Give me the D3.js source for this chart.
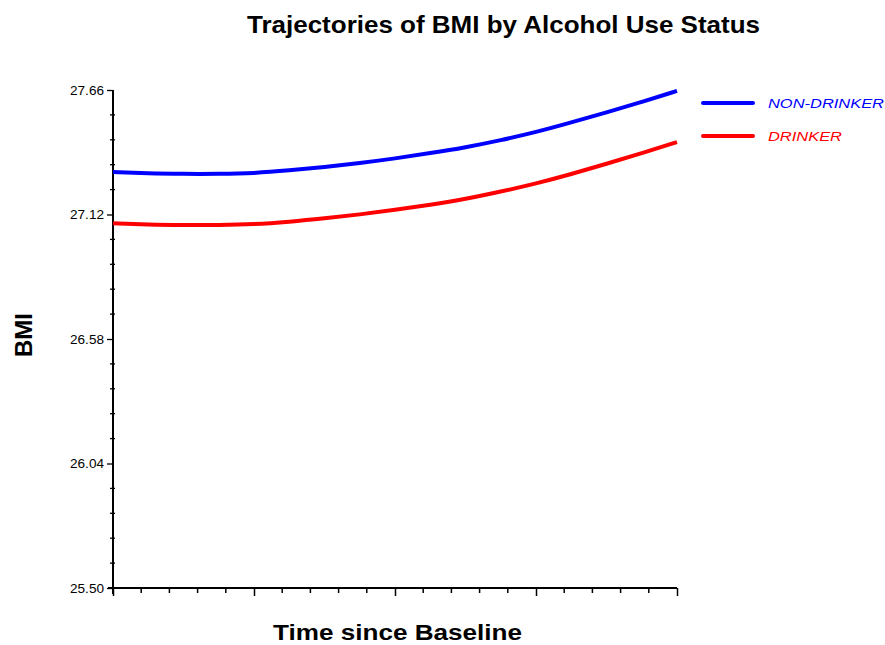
<!DOCTYPE html>
<html>
<head>
<meta charset="utf-8">
<script src="https://cdn.jsdelivr.net/npm/d3@7"></script>
<style>
  html, body { margin: 0; padding: 0; background: #fff; }
  svg { display: block; }
  text { font-family: "Liberation Sans", Arial, sans-serif; }
</style>
</head>
<body>
<svg id="chart" width="885" height="645"></svg>
<script>
// ---- data ----
const timePoints = [0, 0.25, 0.5, 0.75, 1, 1.25, 1.5, 1.75, 2, 2.25, 2.5, 2.75, 3, 3.25, 3.5, 3.75, 4];
const nonDrinker = [27.304, 27.298, 27.296, 27.296, 27.299, 27.311, 27.326, 27.343, 27.363, 27.386, 27.411, 27.442, 27.477, 27.519, 27.563, 27.608, 27.656];
const drinker    = [27.082, 27.076, 27.074, 27.074, 27.077, 27.088, 27.103, 27.120, 27.140, 27.162, 27.187, 27.219, 27.254, 27.295, 27.340, 27.386, 27.434];
const seriesNames = ["NON-DRINKER", "DRINKER"];
const seriesColors = ["#0000ff", "#ff0000"];
const yTickValues = [25.50, 26.04, 26.58, 27.12, 27.66];
const xMajorTicks = [0, 1, 2, 3, 4];
const titleText = "Trajectories of BMI by Alcohol Use Status";
const xLabel = "Time since Baseline";
const yLabel = "BMI";

// ---- layout ----
const svg = d3.select("#chart");
const x = d3.scaleLinear().domain([0, 4]).range([113, 677]);
const y = d3.scaleLinear().domain([25.50, 27.66]).range([588, 90]);

// minor ticks
const yMinor = [];
for (let i = 0; i < yTickValues.length - 1; i++) {
  const step = (yTickValues[i + 1] - yTickValues[i]) / 5;
  for (let k = 1; k < 5; k++) yMinor.push(yTickValues[i] + step * k);
}
const xMinor = [];
for (let i = 0; i < xMajorTicks.length - 1; i++) {
  const step = (xMajorTicks[i + 1] - xMajorTicks[i]) / 5;
  for (let k = 1; k < 5; k++) xMinor.push(xMajorTicks[i] + step * k);
}

// Y axis
const yAxis = d3.axisLeft(y).tickValues(yTickValues).tickFormat(d3.format(".2f")).tickSize(6).tickPadding(3);
const gy = svg.append("g").attr("transform", "translate(113,0)").call(yAxis);
gy.select(".domain").remove();
gy.selectAll("line").attr("stroke", "#000").attr("stroke-width", 1.3);
gy.selectAll("text").attr("font-size", 13).attr("fill", "#000").attr("textLength", 34).attr("lengthAdjust", "spacingAndGlyphs");
svg.append("line").attr("x1", 113).attr("x2", 113).attr("y1", y(27.66)).attr("y2", 594)
  .attr("stroke", "#000").attr("stroke-width", 2);
svg.selectAll(".yminor").data(yMinor).enter().append("line")
  .attr("x1", 110).attr("x2", 115).attr("y1", d => y(d)).attr("y2", d => y(d))
  .attr("stroke", "#000").attr("stroke-width", 1.3);

// X axis
const xAxis = d3.axisBottom(x).tickValues(xMajorTicks).tickFormat("").tickSize(8);
const gx = svg.append("g").attr("transform", "translate(0,588)").call(xAxis);
gx.select(".domain").remove();
gx.selectAll("line").attr("stroke", "#000").attr("stroke-width", 1.5);
svg.append("line").attr("x1", 108).attr("x2", 677).attr("y1", 588).attr("y2", 588)
  .attr("stroke", "#000").attr("stroke-width", 2);
svg.selectAll(".xminor").data(xMinor).enter().append("line")
  .attr("x1", d => x(d)).attr("x2", d => x(d)).attr("y1", 588).attr("y2", 593)
  .attr("stroke", "#000").attr("stroke-width", 1.5);

// lines
const line = d3.line().x((d, i) => x(timePoints[i])).y(d => y(d)).curve(d3.curveBasis);
[nonDrinker, drinker].forEach((vals, i) => {
  svg.append("path").datum(vals).attr("d", line)
    .attr("fill", "none").attr("stroke", seriesColors[i]).attr("stroke-width", 4);
});

// legend
const legendY = [103, 136];
const legendLen = [116, 74];
seriesNames.forEach((name, i) => {
  svg.append("line").attr("x1", 703).attr("x2", 753).attr("y1", legendY[i]).attr("y2", legendY[i])
    .attr("stroke", seriesColors[i]).attr("stroke-width", 4).attr("stroke-linecap", "round");
  svg.append("text").attr("x", 768).attr("y", legendY[i] + 5)
    .attr("font-size", 13).attr("font-style", "italic").attr("fill", seriesColors[i])
    .attr("textLength", legendLen[i]).attr("lengthAdjust", "spacingAndGlyphs")
    .text(name);
});

// title & labels
svg.append("text").attr("x", 247).attr("y", 33)
  .attr("font-size", 24).attr("font-weight", "bold")
  .attr("textLength", 513).attr("lengthAdjust", "spacingAndGlyphs")
  .text(titleText);
svg.append("text").attr("x", 273).attr("y", 640)
  .attr("font-size", 22).attr("font-weight", "bold")
  .attr("textLength", 249).attr("lengthAdjust", "spacingAndGlyphs")
  .text(xLabel);
svg.append("text").attr("transform", "translate(32,357) rotate(-90)")
  .attr("font-size", 24).attr("font-weight", "bold")
  .attr("textLength", 44).attr("lengthAdjust", "spacingAndGlyphs")
  .text(yLabel);
</script>
</body>
</html>
